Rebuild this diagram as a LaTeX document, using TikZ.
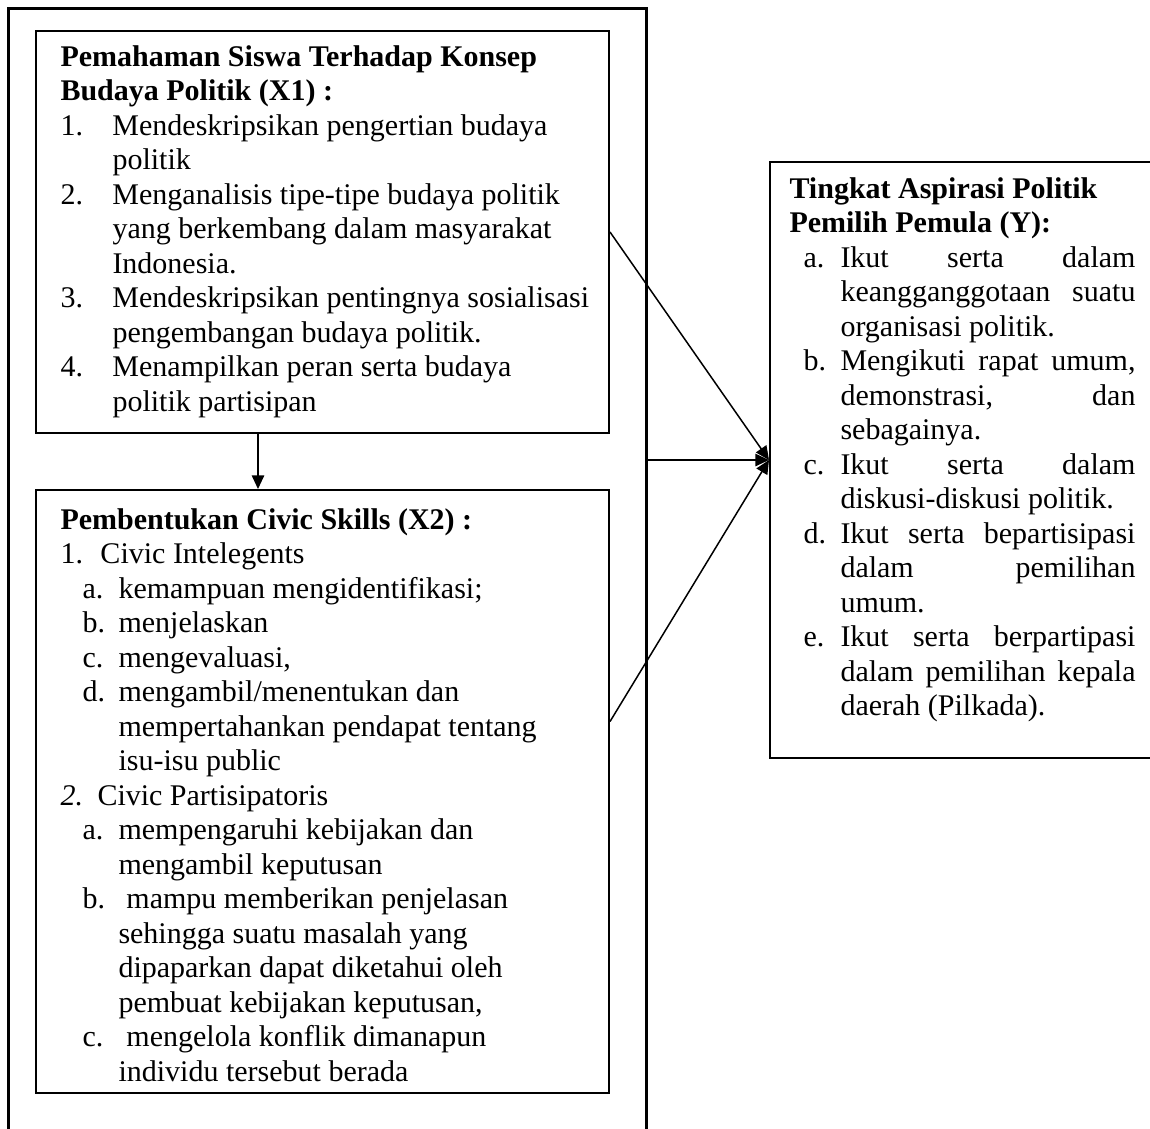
\documentclass[tikz,border=0pt]{standalone}
\usepackage{fontspec}
\setmainfont{Liberation Serif}
\usetikzlibrary{arrows.meta,calc}
\newcommand\Lb[3]{\hspace*{#1}\makebox[#2][l]{#3}}
\newcommand\In[1]{\hspace*{#1}}
\newcommand\Js[1]{\makebox[118pt][s]{#1}}
\begin{document}
\begin{tikzpicture}[x=0.4pt,y=-0.4pt,
  box/.style={draw, line width=0.8pt, inner sep=0pt, anchor=north west},
  txt/.style={anchor=base west, inner sep=0pt},
  arr/.style={line width=0.6pt, -{Triangle[length=5.5pt,width=5pt]}}]
\useasboundingbox (0,0) rectangle (1150,1128);
\node[box, line width=1pt, minimum width=255.2pt, minimum height=450pt] (O) at (7,7) {};
\node[box, minimum width=229.2pt, minimum height=160.8pt] (X1) at (35,30) {};
\node[box, minimum width=229.2pt, minimum height=241.2pt] (X2) at (35,489) {};
\node[box, minimum width=153.6pt, minimum height=238.4pt] (Y) at (769,161) {};

\node[txt] (t1) at (60,66) {\parbox[t]{300pt}{\fontsize{12pt}{13.8pt}\selectfont
\textbf{Pemahaman Siswa Terhadap Konsep}\\
\textbf{Budaya Politik (X1) :}\\
\Lb{0pt}{20.8pt}{1.}Mendeskripsikan pengertian budaya\\
\In{20.8pt}politik\\
\Lb{0pt}{20.8pt}{2.}Menganalisis tipe-tipe budaya politik\\
\In{20.8pt}yang berkembang dalam masyarakat\\
\In{20.8pt}Indonesia.\\
\Lb{0pt}{20.8pt}{3.}Mendeskripsikan pentingnya sosialisasi\\
\In{20.8pt}pengembangan budaya politik.\\
\Lb{0pt}{20.8pt}{4.}Menampilkan peran serta budaya\\
\In{20.8pt}politik partisipan}};

\node[txt] (t2) at (60,529) {\parbox[t]{300pt}{\fontsize{12pt}{13.8pt}\selectfont
\textbf{Pembentukan Civic Skills (X2) :}\\
\Lb{0pt}{16pt}{1.}Civic Intelegents\\
\Lb{8.8pt}{14.4pt}{a.}kemampuan mengidentifikasi;\\
\Lb{8.8pt}{14.4pt}{b.}menjelaskan\\
\Lb{8.8pt}{14.4pt}{c.}mengevaluasi,\\
\Lb{8.8pt}{14.4pt}{d.}mengambil/menentukan dan\\
\In{23.2pt}mempertahankan pendapat tentang\\
\In{23.2pt}isu-isu public\\
\Lb{0pt}{14.8pt}{\textit{2.}}Civic Partisipatoris\\
\Lb{8.8pt}{14.4pt}{a.}mempengaruhi kebijakan dan\\
\In{23.2pt}mengambil keputusan\\
\Lb{8.8pt}{17.6pt}{b.}mampu memberikan penjelasan\\
\In{23.2pt}sehingga suatu masalah yang\\
\In{23.2pt}dipaparkan dapat diketahui oleh\\
\In{23.2pt}pembuat kebijakan keputusan,\\
\Lb{8.8pt}{17.6pt}{c.}mengelola konflik dimanapun\\
\In{23.2pt}individu tersebut berada}};

\node[txt] (t3) at (789,198) {\parbox[t]{200pt}{\fontsize{12pt}{13.8pt}\selectfont
\textbf{Tingkat Aspirasi Politik}\\
\textbf{Pemilih Pemula (Y):}\\
\Lb{5.6pt}{14.8pt}{a.}\Js{Ikut serta dalam}\\
\In{20.4pt}\Js{keangganggotaan suatu}\\
\In{20.4pt}organisasi politik.\\
\Lb{5.6pt}{14.8pt}{b.}\Js{Mengikuti rapat umum,}\\
\In{20.4pt}\Js{demonstrasi, dan}\\
\In{20.4pt}sebagainya.\\
\Lb{5.6pt}{14.8pt}{c.}\Js{Ikut serta dalam}\\
\In{20.4pt}diskusi-diskusi politik.\\
\Lb{5.6pt}{14.8pt}{d.}\Js{Ikut serta bepartisipasi}\\
\In{20.4pt}\Js{dalam pemilihan}\\
\In{20.4pt}umum.\\
\Lb{5.6pt}{14.8pt}{e.}\Js{Ikut serta berpartipasi}\\
\In{20.4pt}\Js{dalam pemilihan kepala}\\
\In{20.4pt}daerah (Pilkada).}};

\draw[arr] (X1.east) -- (Y.west);
\draw[arr] ($(X2.east)+(0,-70)$) -- (Y.west);
\draw[arr] (O.east |- Y.west) -- (Y.west);
\draw[arr] ($(X1.south)+(-64.5,0)$) -- ($(X2.north)+(-64.5,0)$);
\end{tikzpicture}
\end{document}
